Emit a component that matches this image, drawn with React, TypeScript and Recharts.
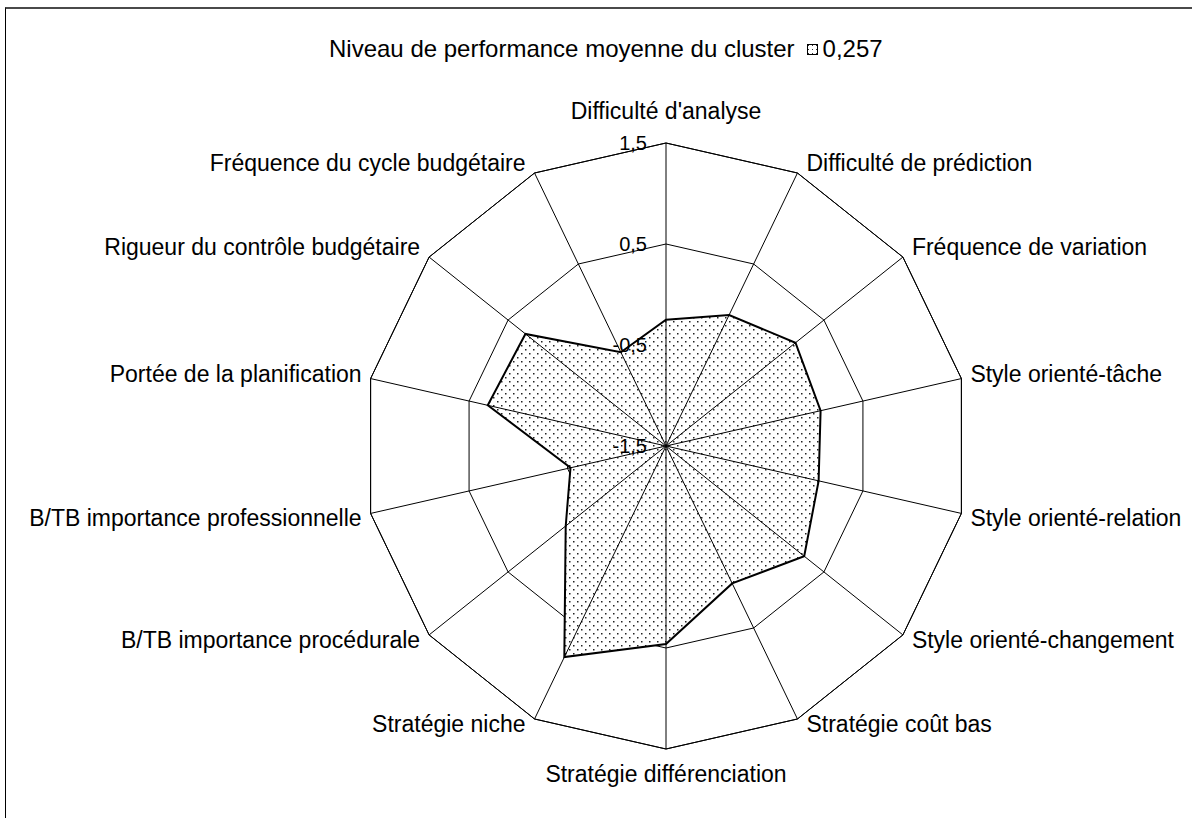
import { RadarChart, Radar, PolarGrid, PolarAngleAxis, PolarRadiusAxis } from "recharts";

const categories = [
  "Difficulté d'analyse",
  "Difficulté de prédiction",
  "Fréquence de variation",
  "Style orienté-tâche",
  "Style orienté-relation",
  "Style orienté-changement",
  "Stratégie coût bas",
  "Stratégie différenciation",
  "Stratégie niche",
  "B/TB importance procédurale",
  "B/TB importance professionnelle",
  "Portée de la planification",
  "Rigueur du contrôle budgétaire",
  "Fréquence du cycle budgétaire",
];
const clusterValues = [-0.25, -0.06, 0.14, 0.07, 0.05, 0.25, 0.01, 0.46, 0.82, -0.23, -0.53, 0.31, 0.28, -0.47];
const radiusDomain = [-1.5, 1.5];
const seriesName = "0,257";
const legendTitle = "Niveau de performance moyenne du cluster";

const data = categories.map((name, i) => ({ name, value: clusterValues[i] }));

const CX = 666;
const CY = 446;
const R = 303;
const FONT = "'Liberation Sans', Arial, sans-serif";

const fmt = (v: number) => v.toFixed(1).replace(".", ",");

const AngleTick = ({ payload }: any) => {
  const a = (payload.coordinate * Math.PI) / 180;
  const cos = Math.cos(a);
  const sin = Math.sin(a);
  const vx = CX + R * cos;
  const vy = CY - R * sin;
  let x = vx;
  let y = vy;
  let anchor: "start" | "end" | "middle" = "middle";
  if (Math.abs(cos) < 1e-6) {
    y = sin > 0 ? vy - 32 : vy + 25;
  } else {
    anchor = cos > 0 ? "start" : "end";
    x = vx + (cos > 0 ? 9 : -9);
    y = vy + (sin > 0.5 ? -10 : sin > 0 ? -5 : 5);
  }
  return (
    <text x={x} y={y} textAnchor={anchor} dominantBaseline="central" fill="#000" fontSize={23} fontFamily={FONT}>
      {payload.value}
    </text>
  );
};

const RadiusTick = ({ y, payload }: any) => (
  <text x={CX - 19} y={y} textAnchor="end" dominantBaseline="central" fill="#000" fontSize={20} fontFamily={FONT}>
    {fmt(payload.value)}
  </text>
);

export default function App() {
  return (
    <div style={{ position: "absolute", left: 0, top: 0, width: 1192, height: 818, overflow: "hidden", background: "#fff" }}>
      <div
        style={{
          position: "absolute",
          left: 5,
          top: 7,
          width: 1187,
          height: 811,
          borderLeft: "1.5px solid #000",
          borderTop: "2px solid #4a4a4a",
          boxSizing: "border-box",
        }}
      />
      <div
        style={{
          position: "absolute",
          left: 329,
          top: 36,
          display: "flex",
          alignItems: "center",
          fontFamily: FONT,
          fontSize: 24,
          lineHeight: "26px",
          color: "#000",
          whiteSpace: "nowrap",
        }}
      >
        <span>{legendTitle}</span>
        <svg width={11} height={11} style={{ marginLeft: 12, marginRight: 5 }}>
          <rect x={0.5} y={0.5} width={10} height={10} fill="url(#dotsIcon)" stroke="#000" strokeWidth={1} />
          <defs>
            <pattern id="dotsIcon" width={4} height={4} patternUnits="userSpaceOnUse">
              <rect width={4} height={4} fill="#fff" />
              <rect x={1} y={1} width={1} height={1} fill="#333" />
            </pattern>
          </defs>
        </svg>
        <span>{seriesName}</span>
      </div>
      <div style={{ position: "absolute", left: 0, top: 0 }}>
        <RadarChart width={1192} height={818} data={data} cx={CX} cy={CY} outerRadius={R} margin={{ top: 0, right: 0, bottom: 0, left: 0 }}>
          <defs>
            <pattern id="dots" width={8} height={8} patternUnits="userSpaceOnUse">
              <rect width={8} height={8} fill="#fff" />
              <rect x={1} y={1} width={1.5} height={1.5} fill="#222" />
              <rect x={5} y={5} width={1.5} height={1.5} fill="#222" />
            </pattern>
          </defs>
          <PolarGrid gridType="polygon" radialLines={false} stroke="#000" strokeWidth={1} />
          <PolarRadiusAxis
            angle={90}
            type="number"
            scale="linear"
            domain={radiusDomain as any}
            tickCount={4}
            allowDecimals
            allowDataOverflow
            axisLine={false}
            tickLine={false}
            tick={<RadiusTick />}
          />
          <Radar
            name={seriesName}
            dataKey="value"
            stroke="#000"
            strokeWidth={2}
            fill="url(#dots)"
            fillOpacity={1}
            dot={false}
            isAnimationActive={false}
          />
          <PolarAngleAxis
            dataKey="name"
            axisLineType="polygon"
            axisLine={{ stroke: "#000", strokeWidth: 1 }}
            tickLine={{ stroke: "#000", strokeWidth: 1 }}
            orientation="inner"
            tickSize={R}
            tick={<AngleTick />}
          />
        </RadarChart>
      </div>
    </div>
  );
}
